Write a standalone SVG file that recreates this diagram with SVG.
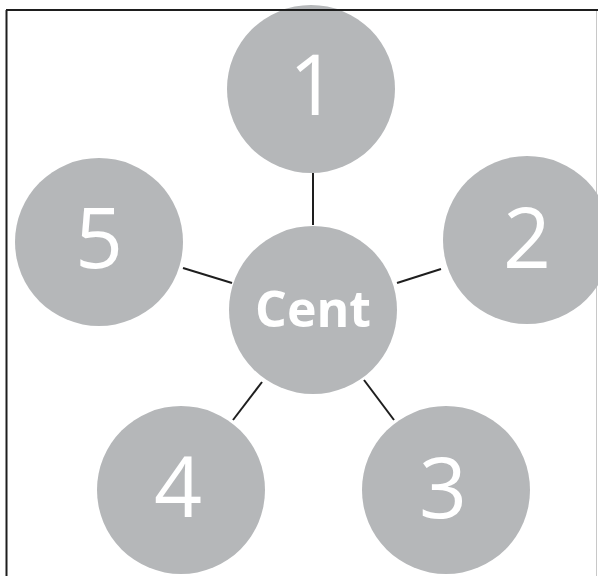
<svg xmlns="http://www.w3.org/2000/svg" width="598" height="576" viewBox="0 0 598 576">
<style>
.node{fill:#b5b7b9;}
.num{font-family:"Open Sans","Liberation Sans",sans-serif;font-size:84px;fill:#ffffff;text-anchor:middle;}
.ctr{font-family:"Open Sans","Liberation Sans",sans-serif;font-size:50px;font-weight:bold;fill:#ffffff;text-anchor:middle;}
.edge{stroke:#1e1e1e;stroke-width:2;fill:none;}
</style>
<rect x="0" y="0" width="598" height="576" fill="#ffffff"/>
<line x1="596.5" y1="10" x2="596.5" y2="576" stroke="#c8c8c8" stroke-width="1"/>
<line x1="6.5" y1="10" x2="6.5" y2="576" stroke="#1e1e1e" stroke-width="2"/>
<g id="connectors">
<line class="edge" x1="313" y1="173" x2="313" y2="225"/>
<line class="edge" x1="183" y1="268" x2="232" y2="283"/>
<line class="edge" x1="397" y1="283" x2="441" y2="269"/>
<line class="edge" x1="262" y1="382" x2="233" y2="420"/>
<line class="edge" x1="364" y1="380" x2="394" y2="420"/>
</g>
<g id="node-1"><circle class="node" cx="311" cy="89" r="84"/><text class="num" x="313" y="115">1</text></g>
<g id="node-2"><circle class="node" cx="527" cy="240" r="84"/><text class="num" x="527" y="268">2</text></g>
<g id="node-3"><circle class="node" cx="446" cy="490" r="84"/><text class="num" x="443" y="518">3</text></g>
<g id="node-4"><circle class="node" cx="181" cy="490" r="84"/><text class="num" x="178" y="517">4</text></g>
<g id="node-5"><circle class="node" cx="99" cy="242" r="84"/><text class="num" x="99" y="268">5</text></g>
<g id="node-center"><circle class="node" cx="313" cy="310" r="84"/><text class="ctr" x="313" y="327">Cent</text></g>
<line x1="6" y1="10" x2="598" y2="10" stroke="#1e1e1e" stroke-width="2"/>
</svg>
